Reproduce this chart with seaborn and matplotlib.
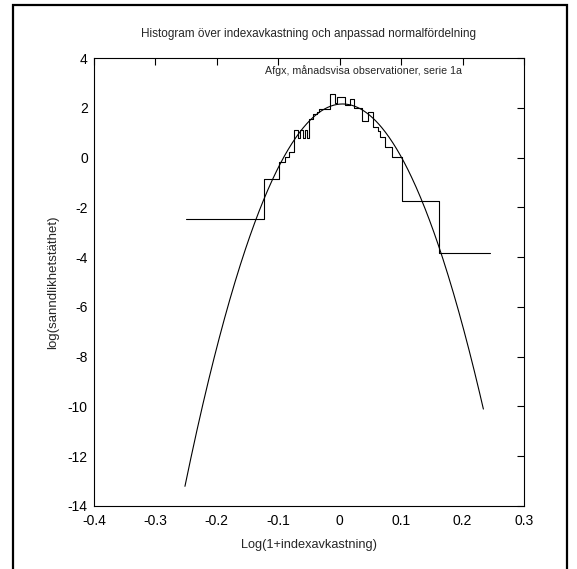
import numpy as np
import matplotlib
matplotlib.use("Agg")
import matplotlib.pyplot as plt
import seaborn as sns
from matplotlib.patches import Rectangle

# Histogram of monthly log returns: bin edges and log density per bin
bin_edges = [-0.250, -0.124, -0.099, -0.089, -0.083, -0.075, -0.068, -0.064,
             -0.060, -0.057, -0.053, -0.050, -0.044, -0.037, -0.033, -0.016,
             -0.008, -0.005, 0.008, 0.016, 0.023, 0.036, 0.046, 0.054, 0.062,
             0.065, 0.073, 0.085, 0.102, 0.161, 0.244]
log_density = [-2.47, -0.86, -0.17, 0.03, 0.23, 1.10, 0.78, 1.10, 0.78, 1.10,
               0.78, 1.55, 1.75, 1.85, 1.95, 2.55, 2.20, 2.42, 2.12, 2.35,
               2.00, 1.45, 1.83, 1.22, 1.05, 0.82, 0.42, 0.02, -1.75, -3.84]

# Fitted normal distribution (mean, standard deviation) and the range it is drawn over
fit_mean = 0.0047
fit_std = 0.0463
fit_range = [-0.252, 0.234]

x_ticks = [-0.4, -0.3, -0.2, -0.1, 0.0, 0.1, 0.2, 0.3]
x_tick_labels = ["-0.4", "-0.3", "-0.2", "-0.1", "0", "0.1", "0.2", "0.3"]
y_ticks = [-14, -12, -10, -8, -6, -4, -2, 0, 2, 4]

sns.set_style("white")
plt.rcParams["font.family"] = ["Liberation Sans", "DejaVu Sans"]
plt.rcParams["axes.unicode_minus"] = False

fig = plt.figure(figsize=(5.77, 5.69), dpi=100)
ax = fig.add_axes([0.163, 0.111, 0.745, 0.787])

# step outline of the histogram
step_x = np.array(bin_edges)
step_y = np.array(log_density + [log_density[-1]])
sns.lineplot(x=step_x, y=step_y, drawstyle="steps-post", color="black",
             linewidth=0.8, ax=ax, sort=False, estimator=None)

# log of the fitted normal density
cx = np.linspace(fit_range[0], fit_range[1], 400)
cy = -0.5 * np.log(2 * np.pi * fit_std ** 2) - (cx - fit_mean) ** 2 / (2 * fit_std ** 2)
sns.lineplot(x=cx, y=cy, color="black", linewidth=0.8, ax=ax,
             sort=False, estimator=None)

ax.set_xlim(-0.4, 0.3)
ax.set_ylim(-14, 4)
ax.set_xticks(x_ticks)
ax.set_xticklabels(x_tick_labels)
ax.set_yticks(y_ticks)
ax.tick_params(direction="in", top=True, right=True, length=5, width=0.8,
               labelsize=10, colors="black")
ax.tick_params(axis="x", pad=6)
ax.tick_params(axis="y", pad=4.5)
for s in ax.spines.values():
    s.set_visible(True)
    s.set_color("black")
    s.set_linewidth(0.8)

ax.set_title("Histogram över indexavkastning och anpassad normalfördelning",
             fontsize=8.5, pad=15)
ax.set_xlabel("Log(1+indexavkastning)", fontsize=9.2, labelpad=8)
ax.set_ylabel("log(sanndlikhetstäthet)", fontsize=9.5, labelpad=6.5)
ax.text(0.039, 3.5, "Afgx, månadsvisa observationer, serie 1a",
        ha="center", va="center", fontsize=7.7)

# figure frame
fig.patches.append(Rectangle((13 / 577, -0.05), (567 - 13) / 577, 1.05 - 5 / 569,
                             transform=fig.transFigure, fill=False,
                             edgecolor="black", linewidth=1.6))

fig.savefig("out.png", dpi=100)
